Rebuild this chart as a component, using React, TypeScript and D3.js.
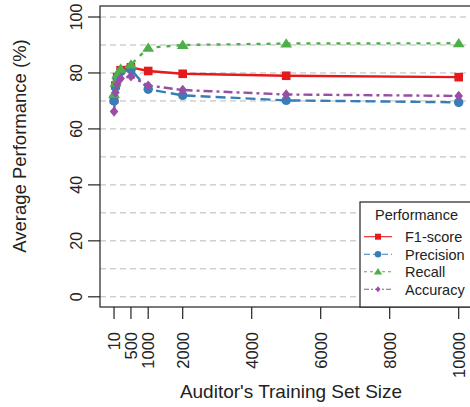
import React from "react";
import * as d3 from "d3";

const sizes = [10, 50, 100, 200, 500, 1000, 2000, 5000, 10000];
const f1Score = [70.5, 75.5, 78.5, 81, 82, 80.7, 79.7, 79.0, 78.5];
const precision = [70.0, 75, 78, 80.5, 81.2, 74.2, 72.0, 70.2, 69.5];
const recall = [72.5, 76.5, 79.5, 81.5, 83.0, 89.0, 90.0, 90.5, 90.6];
const accuracy = [66.2, 73, 76, 78, 78.8, 75.5, 73.9, 72.3, 71.8];

const xTicks = [10, 500, 1000, 2000, 4000, 6000, 8000, 10000];
const yTicks = [0, 20, 40, 60, 80, 100];
const gridValues = [0, 10, 20, 30, 40, 50, 60, 70, 80, 90, 100];

const seriesNames = ["F1-score", "Precision", "Recall", "Accuracy"];
const seriesColors = ["#e41a1c", "#377eb8", "#4daf4a", "#984ea3"];
const seriesDash = ["none", "10 5", "4 6", "9 4 3 4"];
const seriesShapes = ["square", "circle", "triangle", "diamond"];

const FONT = "'Liberation Sans', Arial, Helvetica, sans-serif";

function Marker({ shape, x, y, color, s }: { shape: string; x: number; y: number; color: string; s: number }) {
  if (shape === "square") return <rect x={x - s} y={y - s} width={2 * s} height={2 * s} fill={color} />;
  if (shape === "circle") return <circle cx={x} cy={y} r={s * 1.1} fill={color} />;
  if (shape === "triangle") {
    const h = s * 1.25;
    return <path d={`M${x},${y - h} L${x + h * 1.1},${y + h * 0.75} L${x - h * 1.1},${y + h * 0.75} Z`} fill={color} />;
  }
  return <path d={`M${x},${y - s * 1.2} L${x + s},${y} L${x},${y + s * 1.2} L${x - s},${y} Z`} fill={color} />;
}

export default function App() {
  const W = 470, H = 407;
  const left = 100, right = 472, top = 6, bottom = 307;
  const x = d3.scaleLinear().domain([0, 10000]).range([113.7, 458.7]);
  const y = d3.scaleLinear().domain([0, 100]).range([296.8, 17]);
  const data = [f1Score, precision, recall, accuracy];
  const line = d3.line<number>().x((_, i) => x(sizes[i])).y((d) => y(d));

  const legX = 360, legY = 202;
  const legRows = [236.7, 254.3, 271.7, 289.3];

  return (
    <svg width={W} height={H} style={{ position: "absolute", left: 0, top: 0, background: "#fff" }} fontFamily={FONT}>
      <rect x={0} y={0} width={W} height={H} fill="#fff" />
      {gridValues.map((g) => (
        <line key={g} x1={left} x2={right} y1={y(g)} y2={y(g)} stroke="#b8b8b8" strokeWidth={1} strokeDasharray="6 4" />
      ))}
      {data.map((vals, si) => (
        <path key={"l" + si} d={line(vals) || ""} fill="none" stroke={seriesColors[si]} strokeWidth={2.4}
          strokeDasharray={seriesDash[si]} />
      ))}
      {data.map((vals, si) => (
        <g key={"m" + si}>
          {vals.map((v, i) => (
            <Marker key={i} shape={seriesShapes[si]} x={x(sizes[i])} y={y(v)} color={seriesColors[si]} s={4.3} />
          ))}
        </g>
      ))}
      <rect x={left} y={top} width={right - left} height={bottom - top} fill="none" stroke="#222" strokeWidth={1.2} />
      {/* y axis */}
      {yTicks.map((t) => (
        <g key={t}>
          <line x1={88} x2={left} y1={y(t)} y2={y(t)} stroke="#222" strokeWidth={1.2} />
          <text transform={`translate(82,${y(t)}) rotate(-90)`} textAnchor="middle" fontSize={16} fill="#222">{t}</text>
        </g>
      ))}
      <text transform={`translate(25.5,146) rotate(-90)`} textAnchor="middle" fontSize={18.5} fill="#222">Average Performance (%)</text>
      {/* x axis */}
      {xTicks.map((t) => (
        <g key={t}>
          <line x1={x(t)} x2={x(t)} y1={bottom} y2={319} stroke="#222" strokeWidth={1.2} />
          <text transform={`translate(${x(t)},332) rotate(-90)`} textAnchor="end" dy="0.36em" fontSize={16.5} fill="#222">{t}</text>
        </g>
      ))}
      <text x={291} y={398} textAnchor="middle" fontSize={19} fill="#222">Auditor's Training Set Size</text>
      {/* legend */}
      <rect x={legX} y={legY} width={right - legX} height={bottom - legY} fill="#fff" stroke="#222" strokeWidth={1.2} />
      <text x={416.5} y={219.5} textAnchor="middle" fontSize={14.5} fill="#222">Performance</text>
      {seriesNames.map((n, i) => (
        <g key={n}>
          <line x1={364} x2={392} y1={legRows[i]} y2={legRows[i]} stroke={seriesColors[i]} strokeWidth={1.1}
            strokeDasharray={i === 0 ? "none" : i === 1 ? "6 3" : i === 2 ? "3 3" : "5 2 2 2"} />
          <Marker shape={seriesShapes[i]} x={378} y={legRows[i]} color={seriesColors[i]} s={i === 3 ? 2.5 : 3} />
          <text x={405} y={legRows[i]} dy="0.36em" fontSize={14.5} fill="#222">{n}</text>
        </g>
      ))}
    </svg>
  );
}
